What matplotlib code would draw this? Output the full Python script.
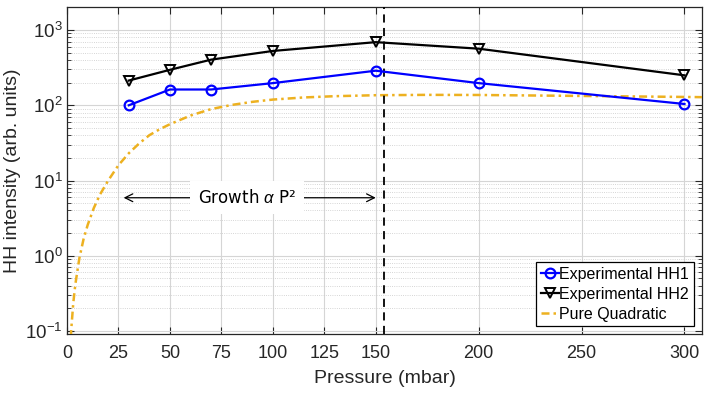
import matplotlib
matplotlib.use("Agg")
import matplotlib.pyplot as plt
from matplotlib.ticker import LogLocator, NullFormatter

plt.rcParams['font.family'] = ['Liberation Sans', 'DejaVu Sans']
plt.rcParams['mathtext.fontset'] = 'custom'
plt.rcParams['mathtext.rm'] = 'Liberation Sans'
plt.rcParams['mathtext.it'] = 'Liberation Sans:italic'

# measured points
pressure = [30, 50, 70, 100, 150, 200, 300]
hh1 = [100, 162, 162, 197, 288, 197, 104]
hh2 = [213, 296, 404, 527, 690, 565, 250]

# pure quadratic curve
quad_p = [1, 2, 3, 4, 6, 8, 10, 13, 16, 20, 25, 30, 35, 40, 45, 50, 60, 70,
          80, 90, 100, 115, 130, 150, 175, 200, 250, 300, 310]
quad_i = [0.026, 0.10, 0.23, 0.41, 0.93, 1.65, 2.55, 4.3, 6.5, 10, 16, 23, 31,
          40, 48, 56, 73, 89, 101, 111, 119, 127, 132, 136, 137.5, 137, 133,
          129, 128]

vline_p = 154
arrow_y = 5.9

fig = plt.figure(figsize=(7.1, 3.94), dpi=100)
ax = fig.add_axes([0.0944, 0.1515, 0.8943, 0.8315])

dark = (0.15, 0.15, 0.15)

ax.plot(pressure, hh1, color='blue', lw=1.6, marker='o', ms=7,
        mfc='none', mew=1.6, label='Experimental HH1', zorder=4)
ax.plot(pressure, hh2, color='black', lw=1.6, marker='v', ms=7,
        mfc='none', mew=1.4, label='Experimental HH2', zorder=4)
ax.plot(quad_p, quad_i, color='#EDB120', lw=1.8, ls=(0, (3.2, 1.6, 1, 1.6)),
        label='Pure Quadratic', zorder=3)
ax.axvline(vline_p, color='black', ls=(0, (4.5, 3)), lw=1.3, zorder=3)

ax.set_yscale('log')
ax.set_xlim(0, 308.5)
ax.set_ylim(10 ** -1.044, 10 ** 3.31)
ax.set_xticks([0, 25, 50, 75, 100, 125, 150, 200, 250, 300])
ax.yaxis.set_major_locator(LogLocator(base=10, numticks=10))
ax.yaxis.set_minor_locator(LogLocator(base=10, subs=range(2, 10), numticks=50))
ax.yaxis.set_minor_formatter(NullFormatter())

ax.grid(which='major', color='#d5d5d5', lw=0.8, ls='-')
ax.grid(which='minor', axis='y', color='#c8c8c8', lw=0.6, ls=':')
ax.set_axisbelow(True)

ax.tick_params(which='both', direction='in', top=True, right=True,
               colors=dark, labelcolor=dark)
ax.tick_params(axis='x', labelsize=13, pad=7.5)
ax.tick_params(axis='y', labelsize=13.5, pad=3)
ax.tick_params(which='major', length=5, width=0.8)
ax.tick_params(which='minor', length=3, width=0.6)
for s in ax.spines.values():
    s.set_color(dark)
    s.set_linewidth(0.9)

ax.set_xlabel('Pressure (mbar)', fontsize=14, color=dark, labelpad=6)
ax.set_ylabel('HH intensity (arb. units)', fontsize=14, color=dark, labelpad=3)

# growth annotation
ax.annotate('', xy=(27.5, arrow_y), xytext=(150, arrow_y),
            arrowprops=dict(arrowstyle='<->', color='black', lw=0.9,
                            mutation_scale=14, shrinkA=0, shrinkB=0),
            zorder=5)
ax.text(87.4, arrow_y, r'Growth $\alpha$ P²', ha='center', va='center',
        fontsize=12, family=['DejaVu Sans'], color='black', zorder=6,
        bbox=dict(boxstyle='square,pad=0.45', fc='white', ec='none'))

leg = ax.legend(loc='lower right', fontsize=11.5, fancybox=False,
                framealpha=1, edgecolor='black', borderpad=0.3,
                handlelength=1.1, handletextpad=0.05, labelspacing=0.3,
                borderaxespad=0.5)
leg.get_frame().set_linewidth(0.9)
leg.set_zorder(7)

fig.savefig('out.png', dpi=100)
